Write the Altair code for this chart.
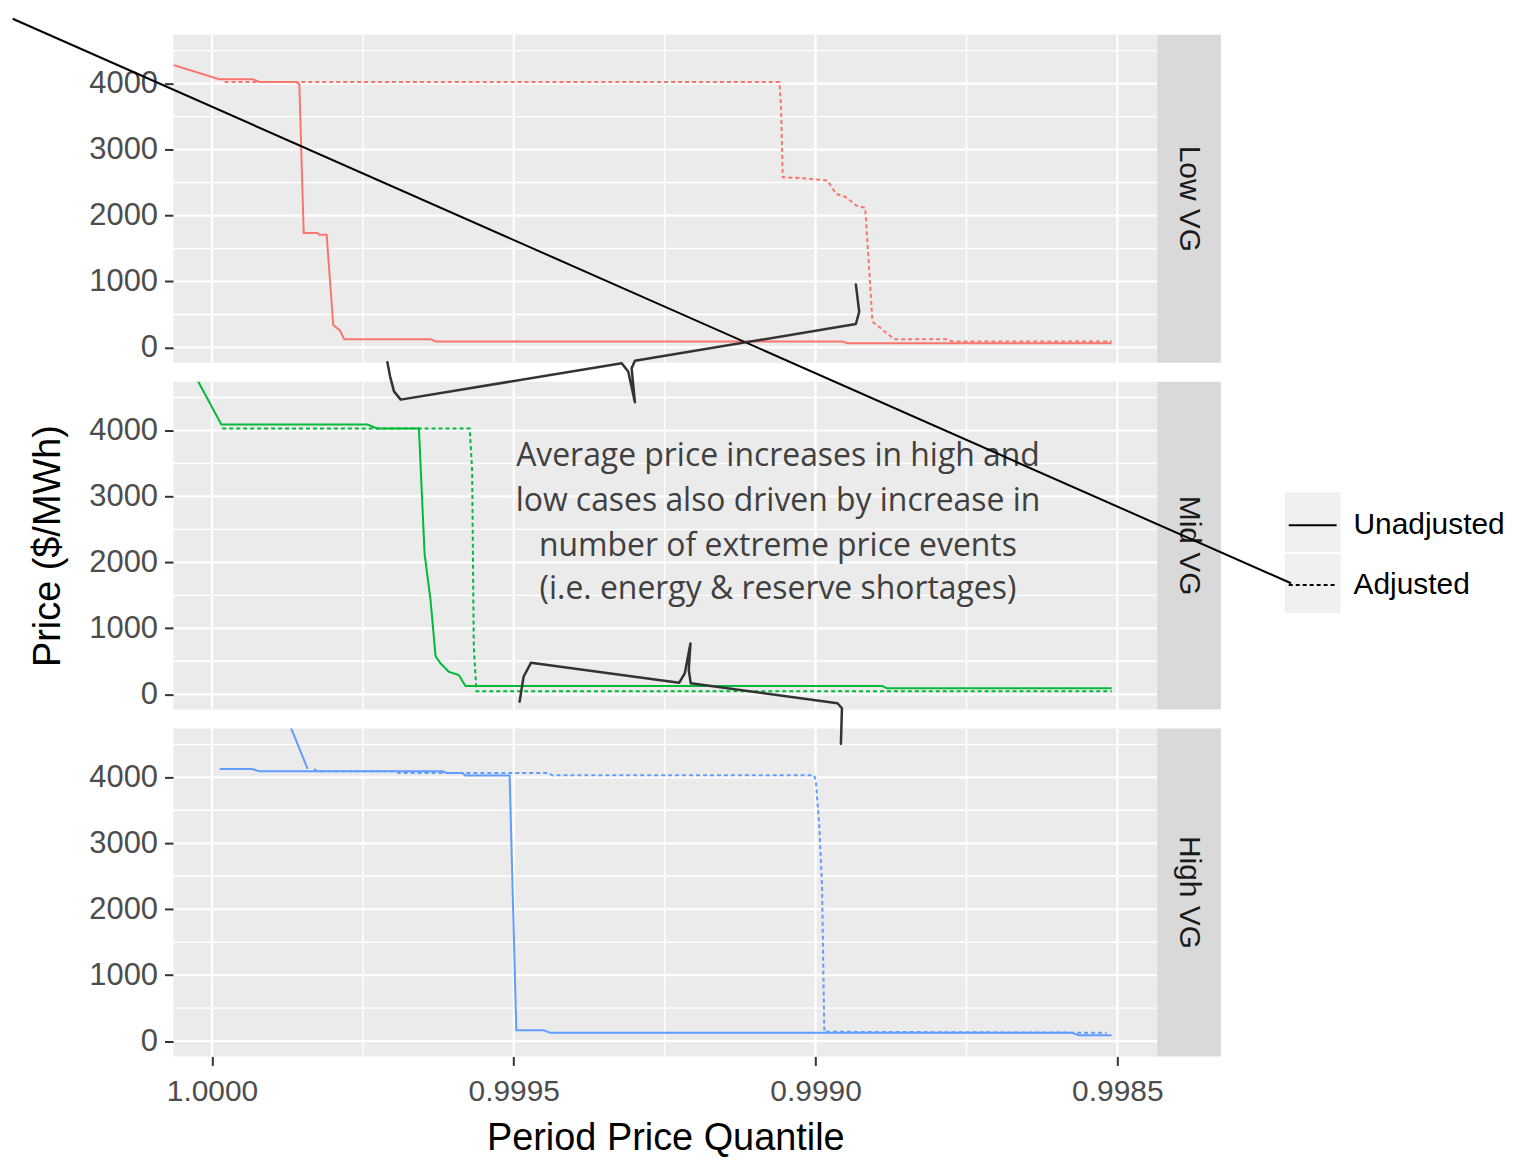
import altair as alt
import pandas as pd

# ---------------- data ----------------
panels = ["Low VG", "Mid VG", "High VG"]
panel_colors = ["#F8766D", "#00BA38", "#619CFF"]

low_unadj_q = [1.0000639, 0.9999874, 0.9999323, 0.9999214, 0.9998608, 0.9998553, 0.9998481,
               0.9998261, 0.9998223, 0.9998101, 0.9997992, 0.9997881, 0.9997810, 0.9996379,
               0.9996296, 0.9989553, 0.9989476, 0.9985094]
low_unadj_p = [4282, 4065, 4065, 4025, 4025, 3990, 1736, 1736, 1710, 1710, 342, 257, 125, 125,
               90, 90, 65, 65]
low_adj_q = [0.9999792, 0.9990598, 0.9990571, 0.9990544, 0.9990268, 0.9989801, 0.9989662,
             0.9989497, 0.9989332, 0.9989178, 0.9989112, 0.9989058, 0.9988919, 0.9988699,
             0.9987819, 0.9987737, 0.9985094]
low_adj_p = [4025, 4025, 3612, 2581, 2570, 2531, 2329, 2279, 2154, 2118, 1197, 392, 291, 125,
             125, 90, 90]

mid_unadj_q = [1.0000639, 0.9999846, 0.9997424, 0.9997259, 0.9996572, 0.9996478, 0.9996379,
               0.9996296, 0.9996213, 0.9996076, 0.9995911, 0.9995800, 0.9988893, 0.9988815,
               0.9985094]
mid_unadj_p = [5440, 4091, 4091, 4030, 4030, 2128, 1423, 578, 468, 341, 291, 125, 125, 90, 90]
mid_adj_q = [0.9999830, 0.9995730, 0.9995690, 0.9995663, 0.9995619, 0.9985094]
mid_adj_p = [4030, 4030, 3385, 718, 45, 45]

high_unadj_q = [0.9999874, 0.9999339, 0.9999214, 0.9996185, 0.9996103, 0.9995855, 0.9995800,
                0.9995069, 0.9994958, 0.9994507, 0.9994397, 0.9985755, 0.9985644, 0.9985094]
high_unadj_p = [4127, 4127, 4091, 4091, 4066, 4066, 4026, 4026, 166, 166, 127, 127, 91, 91]
high_unadj2_q = [0.9999021, 0.9998415]
high_unadj2_p = [5490, 4127]
high_adj_q = [0.9998306, 0.9998261, 0.9996956, 0.9996907, 0.9994430, 0.9994363, 0.9990021,
              0.9989993, 0.9989938, 0.9989893, 0.9989855, 0.9985177]
high_adj_p = [4127, 4091, 4091, 4066, 4066, 4030, 4030, 3915, 3260, 2355, 142, 127]

x_major = [1.0, 0.9995, 0.999, 0.9985]
x_minor = [0.99975, 0.99925, 0.99875]
y_major = [0, 1000, 2000, 3000, 4000]
y_minor = [500, 1500, 2500, 3500, 4500]

types = ["Unadjusted", "Adjusted"]

# annotation (text in Mid VG coordinates; shapes in High VG coordinates)
note_lines = ["Average price increases in high and",
              "low cases also driven by increase in",
              "number of extreme price events",
              "(i.e. energy & reserve shortages)"]
note_q = [0.9990623, 0.9990623, 0.9990623, 0.9990623]
note_p = [3612, 2933, 2254, 1590]

diag_q = [1.0003303, 0.9982122]
diag_p = [15502, 6943]

brace_top_q = [0.9997094, 0.9997050, 0.9996985, 0.9996874, 0.9993213, 0.9993104, 0.9992993,
               0.9993048, 0.9992993, 0.9989332, 0.9989277, 0.9989332]
brace_top_p = [10294, 10080, 9852, 9727, 10279, 10154, 9686, 10204, 10315, 10874, 11060, 11472]
brace_bot_q = [0.9994904, 0.9994838, 0.9994716, 0.9992261, 0.9992167, 0.9992073, 0.9992101,
               0.9992068, 0.9989636, 0.9989563, 0.9989580]
brace_bot_p = [5147, 5525, 5736, 5434, 5576, 6029, 5626, 5425, 5123, 5048, 4509]

# ---------------- layout constants ----------------
X_DOMAIN = [0.998434, 1.0000639]
Y_DOMAIN = [-232, 4740]
W, H = 987, 329
STRIP = 64
FONT = "Liberation Sans"
PANEL_BG = "#EBEBEB"


def series_df(parts):
    rows = []
    for qs, ps, typ, piece in parts:
        for i, (q, p) in enumerate(zip(qs, ps)):
            rows.append({"q": q, "price": p, "Type": typ, "piece": piece, "i": i})
    return pd.DataFrame(rows)


panel_data = [
    series_df([(low_unadj_q, low_unadj_p, "Unadjusted", "a"),
               (low_adj_q, low_adj_p, "Adjusted", "a")]),
    series_df([(mid_unadj_q, mid_unadj_p, "Unadjusted", "a"),
               (mid_adj_q, mid_adj_p, "Adjusted", "a")]),
    series_df([(high_unadj_q, high_unadj_p, "Unadjusted", "a"),
               (high_unadj2_q, high_unadj2_p, "Unadjusted", "b"),
               (high_adj_q, high_adj_p, "Adjusted", "a")]),
]


def xenc(show):
    if show:
        axis = alt.Axis(values=x_major, format=".4f", labelFontSize=30, labelColor="#4D4D4D",
                        tickColor="#333333", tickSize=9, tickWidth=2, domain=False, grid=False,
                        labelPadding=11, title="Period Price Quantile", titleFontSize=38,
                        titleFontWeight="normal", titleColor="black", titlePadding=13,
                        labelFont=FONT, titleFont=FONT)
    else:
        axis = None
    return alt.X("q:Q", scale=alt.Scale(domain=X_DOMAIN, reverse=True, nice=False, zero=False),
                 axis=axis)


def yenc(title):
    kw = dict(values=y_major, format="d", labelFontSize=31, labelColor="#4D4D4D",
              tickColor="#333333", tickSize=9, tickWidth=2, domain=False, grid=False,
              labelPadding=7, labelFont=FONT, titleFont=FONT)
    if title:
        axis = alt.Axis(title=title, titleFontSize=38, titleFontWeight="normal",
                        titleColor="black", titlePadding=21, **kw)
    else:
        axis = alt.Axis(title=None, **kw)
    return alt.Y("price:Q", scale=alt.Scale(domain=Y_DOMAIN, nice=False, zero=False), axis=axis)


legend = alt.Legend(title=None, orient="none", legendX=1118, legendY=467, labelFontSize=30,
                    labelColor="black", labelFont=FONT, symbolType="stroke", symbolSize=2304,
                    symbolStrokeWidth=2, symbolStrokeColor="black", rowPadding=20,
                    labelOffset=16, labelLimit=300)


def make_panel(idx):
    name = panels[idx]
    color = panel_colors[idx]
    show_x = idx == 2
    ytitle = "Price ($/MWh)" if idx == 1 else None
    X = xenc(show_x)
    Y = yenc(ytitle)

    layers = []
    layers.append(alt.Chart(pd.DataFrame({"q": x_minor})).mark_rule(color="white", strokeWidth=1.4)
                  .encode(x=X))
    layers.append(alt.Chart(pd.DataFrame({"q": x_major})).mark_rule(color="white", strokeWidth=2.2)
                  .encode(x=X))
    layers.append(alt.Chart(pd.DataFrame({"price": y_minor})).mark_rule(color="white", strokeWidth=1.4)
                  .encode(y=Y))
    layers.append(alt.Chart(pd.DataFrame({"price": y_major})).mark_rule(color="white", strokeWidth=2.2)
                  .encode(y=Y))

    if idx == 1:
        note = pd.DataFrame({"q": note_q, "price": note_p, "line": note_lines})
        layers.append(alt.Chart(note).mark_text(font="Open Sans", fontSize=32, color="#404040",
                                               align="center", baseline="middle")
                      .encode(x=X, y=Y, text="line:N"))

    layers.append(
        alt.Chart(panel_data[idx]).mark_line(clip=True, strokeWidth=2, color=color).encode(
            x=X, y=Y,
            strokeDash=alt.StrokeDash("Type:N", scale=alt.Scale(domain=types, range=[[1, 0], [4, 3]]),
                                      legend=legend),
            detail="piece:N", order="i:Q"))

    strip_df = pd.DataFrame({"VG": [name]})
    layers.append(alt.Chart(strip_df).mark_rect(color="#D9D9D9").encode(
        x=alt.value(W), x2=alt.value(W + STRIP), y=alt.value(0), y2=alt.value(H)))
    layers.append(alt.Chart(strip_df).mark_text(angle=90, fontSize=30, color="#1A1A1A", font=FONT,
                                                align="center", baseline="middle").encode(
        x=alt.value(W + STRIP / 2), y=alt.value(H / 2), text="VG:N"))

    if idx == 0:
        # legend key backgrounds
        for y0, y1 in [(459, 519), (521, 580)]:
            layers.append(alt.Chart(strip_df).mark_rect(color="#F0F0F0").encode(
                x=alt.value(1115), x2=alt.value(1171), y=alt.value(y0), y2=alt.value(y1)))

    if idx == 2:
        diag = pd.DataFrame({"q": diag_q, "price": diag_p, "i": [0, 1]})
        layers.append(alt.Chart(diag).mark_line(clip=False, color="black", strokeWidth=2)
                      .encode(x=X, y=Y, order="i:Q"))
        bt = pd.DataFrame({"q": brace_top_q, "price": brace_top_p, "i": list(range(len(brace_top_q)))})
        layers.append(alt.Chart(bt).mark_line(clip=False, color="#333333", strokeWidth=2.5,
                                              strokeJoin="round", strokeCap="round")
                      .encode(x=X, y=Y, order="i:Q"))
        bb = pd.DataFrame({"q": brace_bot_q, "price": brace_bot_p, "i": list(range(len(brace_bot_q)))})
        layers.append(alt.Chart(bb).mark_line(clip=False, color="#333333", strokeWidth=2.5,
                                              strokeJoin="round", strokeCap="round")
                      .encode(x=X, y=Y, order="i:Q"))

    return alt.layer(*layers).properties(
        width=W, height=H, view=alt.ViewBackground(fill=PANEL_BG, stroke=None))


chart = alt.vconcat(*[make_panel(i) for i in range(3)], spacing=19, bounds="flush").properties(
    padding={"left": 0, "top": 4, "right": 5, "bottom": 5}
).configure_view(fill=PANEL_BG, stroke=None).configure(font=FONT)

chart.save("out.html", embed_options={"renderer": "svg", "actions": False})
